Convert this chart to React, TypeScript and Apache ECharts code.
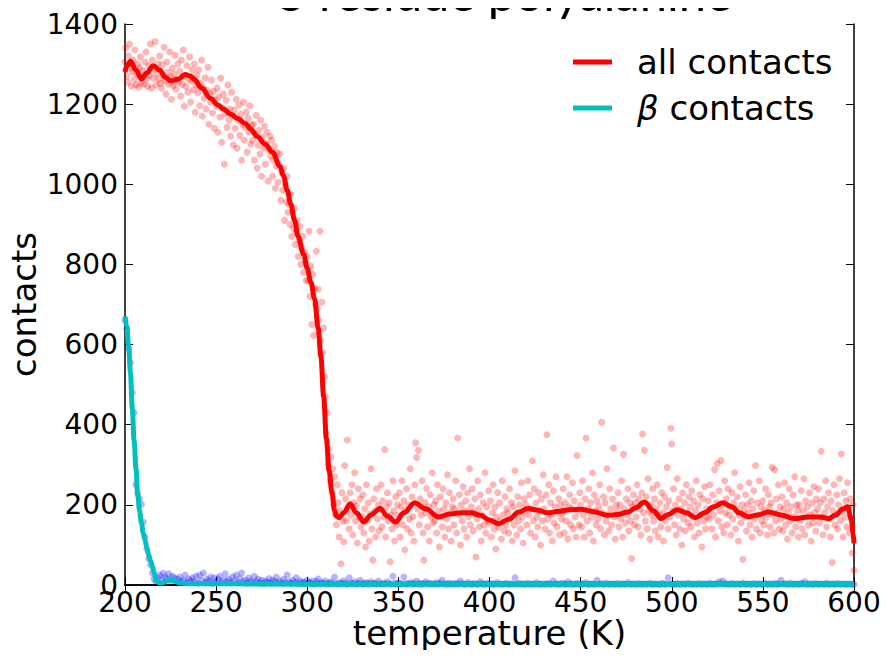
import React, { useEffect, useRef } from "react";
import * as echarts from "echarts";

const TITLE = "5 residue polyalanine";
const X_NAME = "temperature (K)";
const Y_NAME = "contacts";
const ALL_NAME = "all contacts";
const BETA_NAME = "β contacts";

const xTicks = { min: 200, max: 600, interval: 50 };
const yTicks = { min: 0, max: 1400, interval: 200 };

// red samples: one value every 0.5 K from 200 K (rows of 10 K)
const redScatterStart = 200;
const redScatterStep = 0.5;
const redScatter = [
  1305,1340,1270,1255,1320,1350,1290,1245,1280,1310,1262,1335,1248,1275,1300,1242,1290,1318,1252,1270,
  1284,1250,1305,1330,1262,1244,1296,1272,1350,1240,1310,1265,1288,1356,1248,1276,1300,1262,1320,1252,
  1240,1298,1270,1342,1258,1225,1305,1280,1250,1330,1268,1212,1290,1246,1275,1322,1238,1262,1300,1255,
  1282,1220,1310,1250,1335,1195,1270,1244,1296,1230,1262,1318,1205,1258,1285,1236,1300,1180,1248,1272,
  1228,1286,1196,1252,1310,1170,1240,1215,1266,1188,1235,1292,1150,1226,1205,1260,1178,1232,1140,1210,
  1195,1240,1130,1218,1168,1265,1105,1190,1225,1050,1176,1210,1142,1248,1160,1188,1120,1230,1172,1098,
  1185,1140,1212,1090,1160,1198,1122,1175,1060,1150,1205,1110,1142,1180,1080,1165,1130,1196,1100,1148,
  1110,1150,1060,1125,1172,1040,1098,1135,1075,1160,1020,1118,1090,1145,1050,1102,1130,1008,1085,1120,
  1070,1110,1020,1060,1095,990,1045,1080,1005,1050,1075,960,1030,985,1040,910,1000,955,1020,930,
  950,900,975,870,930,890,940,850,880,910,820,860,895,800,840,870,780,830,805,760,
  820,760,883,720,796,650,775,623,740,700,833,690,738,660,883,610,706,580,642,520,
  470,380,430,300,340,260,320,230,290,200,270,175,150,250,205,120,185,53,230,160,
  108,298,215,160,362,190,140,230,175,250,125,205,280,160,198,105,240,170,215,145,
  170,225,130,190,95,250,160,205,110,178,290,140,62,215,185,120,240,165,200,135,
  190,250,145,210,170,338,120,195,230,160,205,58,175,140,260,185,110,220,150,200,
  175,230,120,195,260,150,210,88,185,240,140,200,165,290,130,220,170,110,250,355,
  318,190,336,150,215,175,260,130,62,205,180,240,145,195,110,225,170,280,155,200,
  160,210,130,250,185,95,220,170,145,240,190,120,205,165,275,140,230,180,110,195,
  215,150,190,260,130,367,175,225,100,200,160,245,140,185,210,120,230,170,290,150,
  195,240,135,180,215,70,165,260,190,145,225,110,175,205,150,280,130,195,160,235,
  155,210,120,180,250,140,195,90,170,230,145,205,160,115,260,175,135,220,150,190,
  180,130,240,165,205,110,195,150,285,175,125,220,160,200,140,255,170,105,215,185,
  200,150,260,175,225,130,190,310,160,240,120,205,170,145,230,185,100,215,160,275,
  190,140,225,375,165,250,130,205,175,110,235,155,195,270,145,180,215,125,200,165,
  180,240,130,205,160,270,115,195,225,150,190,255,140,210,170,120,323,185,150,230,
  200,145,260,175,120,215,367,160,190,240,130,205,170,280,110,225,185,150,210,165,
  195,250,140,406,180,220,125,205,160,290,175,135,240,190,150,215,342,170,115,200,
  185,230,145,200,165,260,120,326,190,155,215,175,240,135,205,160,66,195,225,150,
  205,170,250,145,215,190,125,230,377,180,336,160,220,140,265,185,115,200,175,240,
  160,215,135,190,250,120,175,205,145,230,180,110,220,160,195,293,140,210,170,391,
  352,185,240,150,200,125,265,175,215,140,190,100,230,165,205,135,250,180,155,220,
  195,145,235,170,210,120,185,260,155,200,130,225,175,95,215,160,245,140,190,170,
  210,165,250,190,140,225,175,288,120,205,303,160,235,185,311,145,200,130,260,180,
  215,150,240,175,195,125,230,165,205,280,140,190,220,110,175,245,155,200,64,185,
  170,225,135,200,180,255,150,210,120,190,235,165,298,140,205,175,260,130,195,160,
  210,150,185,240,170,125,225,195,145,205,293,175,130,288,160,215,180,250,140,195,
  165,220,135,190,255,150,205,115,180,240,160,195,130,225,170,270,145,200,185,120,
  200,160,235,140,185,265,125,210,170,195,150,230,175,110,205,155,245,180,135,215,
  190,240,155,205,334,170,125,215,180,260,145,195,230,165,120,210,56,185,250,150,
  175,225,140,200,265,160,327,185,120,230,170,210,145,255,190,130,215,165,80,200,
  37,
];

// blue (beta) samples: one value every 1 K from 200 K
const blueScatterStart = 200;
const blueScatterStep = 1;
const blueScatter = [
  660,640,590,555,480,430,250,228,215,201,157,120,90,66,50,30,15,
  8,18,25,12,29,20,15,28,10,22,18,5,14,20,8,12,25,6,15,10,
  18,8,22,5,25,12,30,6,14,10,20,4,18,8,15,22,6,12,28,9,
  14,5,20,10,25,6,16,30,8,12,4,18,10,6,22,8,14,5,12,3,
  10,6,16,4,12,8,20,5,10,3,14,6,25,8,4,12,6,18,3,10,
  5,8,3,12,6,4,10,2,8,15,3,6,4,10,2,5,8,3,20,4,
  2,6,3,10,4,2,18,5,3,8,2,4,12,3,2,6,4,2,8,3,
  4,2,10,3,2,5,2,8,3,2,22,4,2,6,3,2,20,4,2,3,
  6,2,3,10,2,4,2,3,8,2,5,2,3,2,6,2,4,12,2,3,
  2,5,2,3,2,4,2,10,3,2,2,6,2,3,2,4,2,2,8,3,
  2,2,4,2,3,2,2,6,2,3,2,2,5,2,2,3,2,18,2,4,
  2,3,2,2,5,2,2,3,2,6,2,2,3,2,2,4,2,2,10,2,
  3,2,2,5,2,2,8,2,3,2,2,4,2,2,3,2,6,2,2,3,
  2,2,12,2,3,2,2,5,2,2,3,2,2,4,2,2,3,2,2,6,
  2,2,3,2,2,4,2,2,3,2,2,5,2,2,3,2,2,2,4,2,
  2,18,2,3,2,2,4,2,2,3,2,2,5,2,2,3,2,2,4,2,
  2,3,2,2,5,2,2,3,2,8,2,10,2,3,2,2,4,2,2,3,
  2,2,5,2,2,3,2,2,4,2,2,3,2,2,5,2,2,3,2,2,
  4,2,2,12,2,3,2,2,5,2,2,3,2,2,4,2,8,2,2,3,
  2,2,4,2,2,3,2,2,5,2,2,3,2,2,4,2,2,3,2,2,
  3,2,2,2,
];

// smoothed curves
const redLineT = [
  200,201,203,206,209,212,215.5,219,222,225,229,233,236,238,242,247,251,254,258,261.5,
  266,269,272.5,277,281,285,287,289,291,293,295,298,300,302,304,306,307.5,309,310.5,312,
  313.5,315,316,317.5,320,323.5,327,331,335,340,344,348.5,353,359,365,372,378,384,390,395,
  400,405,411,416,421,426,432,438,444,450,457,465,470,476,480,485,490,494,498,503,
  508,513,518,523,528,533,537,542,547,553,560,567,575,581,586,590,594,596.5,598.5,599.5,600,
];
const redLineV = [
  1280,1295,1307,1285,1263,1278,1296,1285,1268,1258,1262,1274,1270,1262,1240,1214,1198,1188,1175,1165,
  1152,1138,1119,1100,1080,1045,1020,985,950,910,870,825,790,755,715,640,570,470,365,285,
  232,185,172,168,180,203,180,157,175,191,172,157,180,205,190,170,177,180,180,174,
  162,153,165,182,191,187,180,184,188,189,183,174,176,182,192,207,185,166,176,188,
  180,168,180,195,205,195,180,170,175,182,175,166,170,170,166,175,190,195,165,130,104,
];
const cyanLineT = [
  200,201,202,203,204,205,206,207,208,209,210,211,212,213,214,215,216,217,218,219,
  220,222,224,226,228,230,235,240,260,300,400,500,600,
];
const cyanLineV = [
  670,645,595,530,440,360,290,225,185,155,130,112,92,75,60,48,30,14,7,5,
  5,8,12,13,9,5,3,3,3,2,2,2,2,
];

const FONT = "DejaVu Sans";

export default function App() {
  const ref = useRef<HTMLDivElement>(null);
  useEffect(() => {
    if (!ref.current) return;
    const chart = echarts.init(ref.current, null, { renderer: "svg" });
    const redPts = redScatter.map((v, i) => [redScatterStart + i * redScatterStep, v]);
    const bluePts = blueScatter.map((v, i) => [blueScatterStart + i * blueScatterStep, v]);
    const redLine = redLineT.map((t, i) => [t, redLineV[i]]);
    const cyanLine = cyanLineT.map((t, i) => [t, cyanLineV[i]]);

    const tickStyle = { show: true, inside: true, length: 8, lineStyle: { color: "#000", width: 1 } };
    const lineStyle = { show: true, lineStyle: { color: "#000", width: 1.5 } };
    const labelStyle = { color: "#000", fontSize: 28, fontFamily: FONT, formatter: (v: number) => String(v) };

    chart.setOption({
      animation: false,
      backgroundColor: "#fff",
      grid: { left: 125, right: 34, top: 24, bottom: 73, outerBoundsMode: "none", containLabel: false },
      legend: {
        data: [ALL_NAME, BETA_NAME],
        orient: "vertical",
        left: 573,
        top: 45,
        padding: 0,
        itemGap: 12,
        itemWidth: 39,
        itemHeight: 5,
        icon: "rect",
        formatter: (n: string) => (n === BETA_NAME ? "{it|β} {n|contacts}" : n),
        textStyle: {
          color: "#000",
          fontSize: 34,
          fontFamily: FONT,
          padding: [0, 0, 0, 20],
          rich: {
            it: { fontSize: 34, fontFamily: FONT, fontStyle: "italic", color: "#000" },
            n: { fontSize: 34, fontFamily: FONT, color: "#000" },
          },
        },
      },
      xAxis: [
        {
          type: "value",
          ...xTicks,
          position: "bottom",
          axisLine: lineStyle,
          axisTick: tickStyle,
          splitLine: { show: false },
          axisLabel: { ...labelStyle, margin: 3 },
          name: X_NAME,
          nameLocation: "middle",
          nameGap: 31,
          nameMoveOverlap: false,
          nameTextStyle: { color: "#000", fontSize: 34, fontFamily: FONT },
        },
        {
          type: "value",
          ...xTicks,
          position: "top",
          axisLine: lineStyle,
          axisTick: tickStyle,
          splitLine: { show: false },
          axisLabel: { show: false },
        },
      ],
      yAxis: [
        {
          type: "value",
          ...yTicks,
          position: "left",
          axisLine: lineStyle,
          axisTick: tickStyle,
          splitLine: { show: false },
          axisLabel: { ...labelStyle, margin: 7 },
          name: Y_NAME,
          nameLocation: "middle",
          nameRotate: 90,
          nameGap: 84,
          nameMoveOverlap: false,
          nameTextStyle: { color: "#000", fontSize: 34, fontFamily: FONT },
        },
        {
          type: "value",
          ...yTicks,
          position: "right",
          axisLine: lineStyle,
          axisTick: tickStyle,
          splitLine: { show: false },
          axisLabel: { show: false },
        },
      ],
      series: [
        {
          name: "all contacts samples",
          type: "scatter",
          data: redPts,
          symbolSize: 7,
          itemStyle: { color: "rgba(255,0,0,0.36)" },
          silent: true,
          z: 2,
        },
        {
          name: "β contacts samples",
          type: "scatter",
          data: bluePts,
          symbolSize: 7,
          itemStyle: { color: "rgba(0,0,255,0.36)" },
          silent: true,
          z: 2,
        },
        {
          name: ALL_NAME,
          type: "line",
          data: redLine,
          showSymbol: false,
          symbol: "none",
          smooth: 0.35,
          smoothMonotone: "x",
          lineStyle: { color: "#ff0000", width: 5 },
          itemStyle: { color: "#ff0000" },
          z: 3,
        },
        {
          name: BETA_NAME,
          type: "line",
          data: cyanLine,
          showSymbol: false,
          symbol: "none",
          smooth: 0.35,
          smoothMonotone: "x",
          lineStyle: { color: "#00bfbf", width: 5 },
          itemStyle: { color: "#00bfbf" },
          z: 4,
        },
      ],
      graphic: [
        {
          type: "rect",
          z: 100,
          shape: { x: 252, y: 0, width: 507, height: 31 },
          style: { fill: "#fff" },
        },
        {
          type: "text",
          z: 101,
          x: 505,
          y: -8,
          style: {
            text: TITLE,
            fill: "#000",
            font: "49px Lato",
            align: "center",
            verticalAlign: "middle",
          },
        },
      ],
    });
    return () => chart.dispose();
  }, []);
  return <div ref={ref} style={{ width: 888, height: 658, margin: -8 }} />;
}
